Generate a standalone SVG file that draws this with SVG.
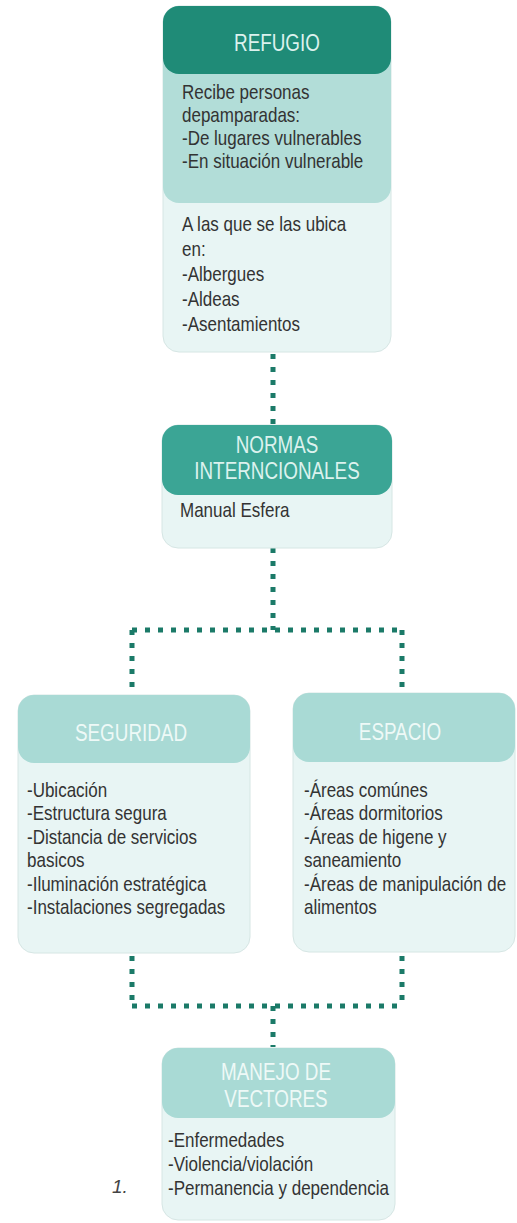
<svg xmlns="http://www.w3.org/2000/svg" width="517" height="1223" viewBox="0 0 517 1223">
  <defs>
    <style>
      .hd-dark { fill: #1f8b77; }
      .hd-mid { fill: #3ba595; }
      .hd-light { fill: #a9dad5; }
      .band { fill: #b2ddd8; }
      .body { fill: #e8f5f4; stroke: #d6e6e4; stroke-width: 1; }
      .title { font-family: "Liberation Sans", Arial, sans-serif; font-size: 23px; text-anchor: middle; }
      .t-strong { fill: #dcf2ee; }
      .t-faint { fill: #eef9f7; }
      .txt { font-family: "Liberation Sans", Arial, sans-serif; font-size: 20px; fill: #333333; }
      .dots { fill: none; stroke: #1b7a68; stroke-width: 5; stroke-dasharray: 5 8; }
      .note { font-family: "Liberation Sans", Arial, sans-serif; font-style: italic; font-size: 19px; fill: #444; }
    </style>
  </defs>

  <!-- dotted connectors -->
  <g id="connectors">
    <path class="dots" d="M273 354 V425"/>
    <path class="dots" d="M273 548 V630"/>
    <path class="dots" d="M132 630 H402"/>
    <path class="dots" d="M132 630 V692"/>
    <path class="dots" d="M402 630 V692"/>
    <path class="dots" d="M132 956 V1006"/>
    <path class="dots" d="M402 956 V1006"/>
    <path class="dots" d="M132 1006 H402"/>
    <path class="dots" d="M273 1006 V1047"/>
  </g>

  <!-- REFUGIO -->
  <g id="refugio">
    <rect class="body" x="163" y="6" width="228" height="346" rx="16"/>
    <rect class="band" x="163" y="6" width="228" height="197" rx="16"/>
    <rect class="hd-dark" x="163" y="6" width="228" height="68" rx="16"/>
    <text class="title t-strong" transform="translate(277 51) scale(0.82 1)">REFUGIO</text>
    <text class="txt" transform="translate(182 99) scale(0.85 1)">Recibe personas</text>
    <text class="txt" transform="translate(182 122) scale(0.85 1)">depamparadas:</text>
    <text class="txt" transform="translate(182 145) scale(0.85 1)">-De lugares vulnerables</text>
    <text class="txt" transform="translate(182 168) scale(0.85 1)">-En situación vulnerable</text>
    <text class="txt" transform="translate(182 231) scale(0.85 1)">A las que se las ubica</text>
    <text class="txt" transform="translate(182 256) scale(0.85 1)">en:</text>
    <text class="txt" transform="translate(182 281) scale(0.85 1)">-Albergues</text>
    <text class="txt" transform="translate(182 306) scale(0.85 1)">-Aldeas</text>
    <text class="txt" transform="translate(182 331) scale(0.85 1)">-Asentamientos</text>
  </g>

  <!-- NORMAS INTERNCIONALES -->
  <g id="normas">
    <rect class="body" x="162" y="425" width="230" height="123" rx="16"/>
    <rect class="hd-mid" x="162" y="425" width="230" height="70" rx="16"/>
    <text class="title t-strong" transform="translate(277 453) scale(0.82 1)">NORMAS</text>
    <text class="title t-strong" transform="translate(277 479) scale(0.82 1)">INTERNCIONALES</text>
    <text class="txt" transform="translate(180 517) scale(0.85 1)">Manual Esfera</text>
  </g>

  <!-- SEGURIDAD -->
  <g id="seguridad">
    <rect class="body" x="18" y="695" width="232" height="258" rx="16"/>
    <rect class="hd-light" x="18" y="695" width="232" height="68" rx="16"/>
    <text class="title t-faint" transform="translate(131 741) scale(0.82 1)">SEGURIDAD</text>
    <text class="txt" transform="translate(27 797) scale(0.85 1)">-Ubicación</text>
    <text class="txt" transform="translate(27 820) scale(0.85 1)">-Estructura segura</text>
    <text class="txt" transform="translate(27 844) scale(0.85 1)">-Distancia de servicios</text>
    <text class="txt" transform="translate(27 867) scale(0.85 1)">basicos</text>
    <text class="txt" transform="translate(27 891) scale(0.85 1)">-Iluminación estratégica</text>
    <text class="txt" transform="translate(27 914) scale(0.85 1)">-Instalaciones segregadas</text>
  </g>

  <!-- ESPACIO -->
  <g id="espacio">
    <rect class="body" x="293" y="693" width="222" height="259" rx="16"/>
    <rect class="hd-light" x="293" y="693" width="222" height="69" rx="16"/>
    <text class="title t-faint" transform="translate(400 740) scale(0.82 1)">ESPACIO</text>
    <text class="txt" transform="translate(304 797) scale(0.85 1)">-Áreas comúnes</text>
    <text class="txt" transform="translate(304 820) scale(0.85 1)">-Áreas dormitorios</text>
    <text class="txt" transform="translate(304 844) scale(0.85 1)">-Áreas de higene y</text>
    <text class="txt" transform="translate(304 867) scale(0.85 1)">saneamiento</text>
    <text class="txt" transform="translate(304 891) scale(0.85 1)">-Áreas de manipulación de</text>
    <text class="txt" transform="translate(304 914) scale(0.85 1)">alimentos</text>
  </g>

  <!-- MANEJO DE VECTORES -->
  <g id="manejo">
    <rect class="body" x="162" y="1048" width="233" height="172" rx="16"/>
    <rect class="hd-light" x="162" y="1048" width="233" height="70" rx="16"/>
    <text class="title t-faint" transform="translate(276 1080) scale(0.82 1)">MANEJO DE</text>
    <text class="title t-faint" transform="translate(276 1107) scale(0.82 1)">VECTORES</text>
    <text class="txt" transform="translate(168 1147) scale(0.85 1)">-Enfermedades</text>
    <text class="txt" transform="translate(168 1171) scale(0.85 1)">-Violencia/violación</text>
    <text class="txt" transform="translate(168 1195) scale(0.85 1)">-Permanencia y dependencia</text>
  </g>

  <text class="note" x="112" y="1193">1.</text>
</svg>
